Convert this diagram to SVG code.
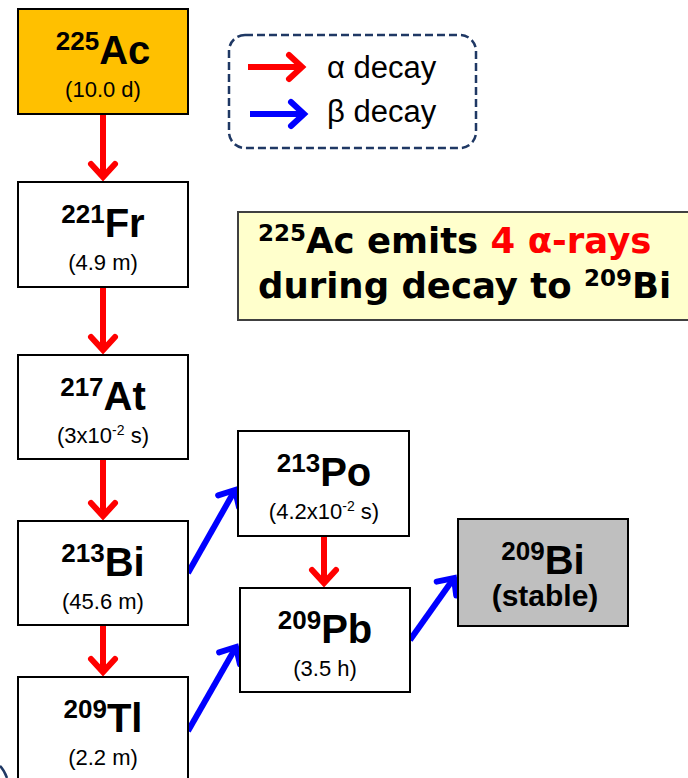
<svg xmlns="http://www.w3.org/2000/svg" width="688" height="778" viewBox="0 0 688 778">
<style>
.box{fill:#fff;stroke:#000;stroke-width:2}
.nuc{font-family:"Liberation Sans",Arial,sans-serif;font-weight:bold;fill:#000}
.sup{font-size:26px}
.main{font-size:40px}
.hl{font-family:"Liberation Sans",Arial,sans-serif;font-size:22px;fill:#000}
.hs{font-size:14px}
.red{stroke:#FF0000;stroke-width:6;fill:none}
.blue{stroke:#0000FF;stroke-width:6;fill:none}
.leg{font-family:"Liberation Sans",Arial,sans-serif;font-size:31px;fill:#000}
.call{font-family:"DejaVu Sans",Verdana,sans-serif;font-weight:bold;font-size:35.5px;fill:#000}
</style>
<defs>
<marker id="ar" markerUnits="userSpaceOnUse" markerWidth="34" markerHeight="34" viewBox="-22 -17 34 34" refX="0" refY="0" orient="auto">
<path d="M-13,-12 L0,0 L-13,12" fill="none" stroke="#FF0000" stroke-width="6" stroke-linecap="round" stroke-linejoin="miter"/>
</marker>
<marker id="ab" markerUnits="userSpaceOnUse" markerWidth="34" markerHeight="34" viewBox="-22 -17 34 34" refX="0" refY="0" orient="auto">
<path d="M-13,-12 L0,0 L-13,12" fill="none" stroke="#0000FF" stroke-width="6" stroke-linecap="round" stroke-linejoin="miter"/>
</marker>
</defs>

<g id="legend">
<rect x="229" y="35" width="247" height="113" rx="16" fill="#fff" stroke="#1F3864" stroke-width="2.5" stroke-dasharray="8 4"/>
<line x1="248" y1="67" x2="302" y2="67" class="red" marker-end="url(#ar)"/>
<line x1="250" y1="114" x2="304" y2="114" class="blue" marker-end="url(#ab)"/>
<text x="327" y="78" class="leg">α decay</text>
<text x="327" y="122" class="leg">β decay</text>
</g>

<g id="callout">
<rect x="238" y="212" width="460" height="108" fill="#FFFFCC" stroke="#404040" stroke-width="2"/>
<text x="258" y="253" class="call"><tspan font-size="23" dy="-12">225</tspan><tspan dy="12">Ac emits </tspan><tspan fill="#FF0000">4 α-rays</tspan></text>
<text x="258" y="298" class="call">during decay to <tspan font-size="23" dy="-12">209</tspan><tspan dy="12">Bi</tspan></text>
</g>

<g id="connectors">
<line x1="103" y1="114" x2="103" y2="177" class="red" marker-end="url(#ar)"/>
<line x1="103" y1="287" x2="103" y2="350" class="red" marker-end="url(#ar)"/>
<line x1="103" y1="459" x2="103" y2="516" class="red" marker-end="url(#ar)"/>
<line x1="103" y1="625" x2="103" y2="672" class="red" marker-end="url(#ar)"/>
<line x1="324" y1="536" x2="324" y2="583" class="red" marker-end="url(#ar)"/>
<line x1="188" y1="573" x2="235" y2="490" class="blue" marker-end="url(#ab)"/>
<line x1="188" y1="731" x2="236" y2="647" class="blue" marker-end="url(#ab)"/>
<line x1="410" y1="640" x2="454" y2="578" class="blue" marker-end="url(#ab)"/>
</g>

<g id="ac225">
<rect x="18" y="9" width="170" height="105" fill="#FFC000" stroke="#000" stroke-width="2"/>
<text x="103" y="64" text-anchor="middle" class="nuc"><tspan class="sup" dy="-14">225</tspan><tspan class="main" dy="14">Ac</tspan></text>
<text x="103" y="97" text-anchor="middle" class="hl">(10.0 d)</text>
</g>

<g id="fr221">
<rect x="18" y="182" width="170" height="105" class="box"/>
<text x="103" y="237" text-anchor="middle" class="nuc"><tspan class="sup" dy="-14">221</tspan><tspan class="main" dy="14">Fr</tspan></text>
<text x="103" y="270" text-anchor="middle" class="hl">(4.9 m)</text>
</g>

<g id="at217">
<rect x="18" y="355" width="170" height="104" class="box"/>
<text x="103" y="410" text-anchor="middle" class="nuc"><tspan class="sup" dy="-14">217</tspan><tspan class="main" dy="14">At</tspan></text>
<text x="103" y="443" text-anchor="middle" class="hl">(3x10<tspan class="hs" dy="-8">-2</tspan><tspan dy="8"> s)</tspan></text>
</g>

<g id="bi213">
<rect x="18" y="521" width="170" height="104" class="box"/>
<text x="103" y="576" text-anchor="middle" class="nuc"><tspan class="sup" dy="-14">213</tspan><tspan class="main" dy="14">Bi</tspan></text>
<text x="103" y="609" text-anchor="middle" class="hl">(45.6 m)</text>
</g>

<g id="tl209">
<rect x="18" y="677" width="170" height="110" class="box"/>
<text x="103" y="732" text-anchor="middle" class="nuc"><tspan class="sup" dy="-14">209</tspan><tspan class="main" dy="14">Tl</tspan></text>
<text x="103" y="765" text-anchor="middle" class="hl">(2.2 m)</text>
</g>

<g id="po213">
<rect x="238" y="431" width="171" height="105" class="box"/>
<text x="324" y="486" text-anchor="middle" class="nuc"><tspan class="sup" dy="-14">213</tspan><tspan class="main" dy="14">Po</tspan></text>
<text x="324" y="519" text-anchor="middle" class="hl">(4.2x10<tspan class="hs" dy="-8">-2</tspan><tspan dy="8"> s)</tspan></text>
</g>

<g id="pb209">
<rect x="240" y="588" width="170" height="104" class="box"/>
<text x="325" y="643" text-anchor="middle" class="nuc"><tspan class="sup" dy="-14">209</tspan><tspan class="main" dy="14">Pb</tspan></text>
<text x="325" y="676" text-anchor="middle" class="hl">(3.5 h)</text>
</g>

<g id="bi209">
<rect x="458" y="519" width="170" height="107" fill="#BFBFBF" stroke="#000" stroke-width="2"/>
<text x="543" y="574" text-anchor="middle" class="nuc"><tspan class="sup" dy="-14">209</tspan><tspan class="main" dy="14">Bi</tspan></text>
<text x="545" y="606" text-anchor="middle" class="nuc" font-size="30">(stable)</text>
</g>

<path d="M0,766 Q4,770 7,778" fill="none" stroke="#1F3864" stroke-width="2.5"/>
</svg>
